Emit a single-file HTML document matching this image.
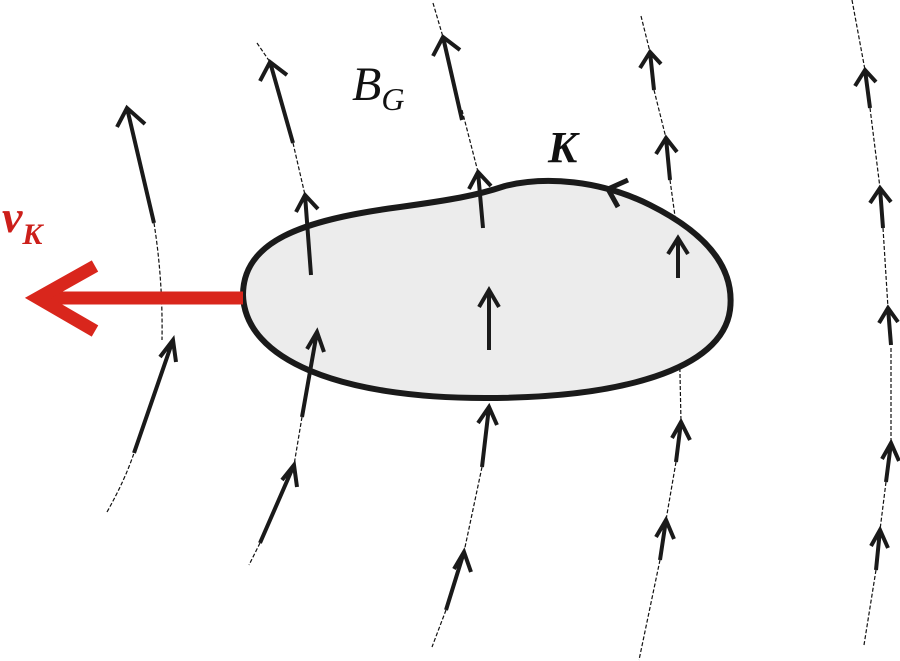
<!DOCTYPE html><html><head><style>body{margin:0;background:#fff}svg{display:block}</style></head><body>
<svg width="900" height="661" viewBox="0 0 900 661" xmlns="http://www.w3.org/2000/svg">
<g fill="none" stroke="#111" stroke-width="1.2" stroke-dasharray="4,2">
<path d="M107,512 Q125,480 134,453 M154,223 Q163,280 162,340"/>
<path d="M257,43 L270,62 M293,143 L305,195 M302,417 L294,465 M260,543 L249,565"/>
<path d="M433,3 L443,37 M462,110 L478,172 M482,467 L464,552 M446,610 L432,647"/>
<path d="M641,16 L650,52 M654,90 L666,138 M670,180 L678,238 M678,278 L681,422 M676,462 L666,520 M660,560 L639,660"/>
<path d="M852,0 L865,70 M870,108 L880,188 M883,228 L888,308 M891,348 L891,443 M886,482 L880,530 M876,570 L864,645"/>
</g>
<path d="M243,295 C243,242 300,220 400,207 C450,200 475,196 505,186 C545,176 600,180 650,205 C710,235 735,270 730,310 C722,370 620,398 485,398 C340,398 245,360 243,295 Z" fill="#ececec" stroke="#1a1a1a" stroke-width="6"/>
<path d="M628,180 L608,189 L618,207" fill="none" stroke="#1a1a1a" stroke-width="5"/>
<g fill="none" stroke="#1a1a1a" stroke-width="4">
<path d="M154,223 L127,108 M117,127 L127,108 L145,124"/>
<path d="M134,453 L173,340 M160,357 L173,340 L176,362"/>
<path d="M293,143 L270,62 M260,81 L270,62 L287,75"/>
<path d="M311,275 L305,195 M296,212 L305,195 L318,209"/>
<path d="M302,417 L317,332 M307,349 L317,332 L324,352"/>
<path d="M260,543 L294,465 M282,480 L294,465 L297,487"/>
<path d="M462,120 L443,37 M433,56 L443,37 L460,50"/>
<path d="M483,228 L478,172 M469,189 L478,172 L491,186"/>
<path d="M489,350 L489,290 M479,307 L489,290 L499,307"/>
<path d="M482,467 L489,407 M478,423 L489,407 L497,425"/>
<path d="M446,610 L464,552 M454,569 L464,552 L471,572"/>
<path d="M654,90 L650,52 M640,68 L650,52 L661,64"/>
<path d="M670,180 L666,138 M656,154 L666,138 L677,152"/>
<path d="M678,278 L678,238 M668,254 L678,238 L688,254"/>
<path d="M676,462 L681,422 M672,438 L681,422 L690,440"/>
<path d="M660,560 L666,520 M656,537 L666,520 L674,539"/>
<path d="M870,108 L865,70 M855,86 L865,70 L876,82"/>
<path d="M883,228 L880,188 M870,203 L880,188 L891,202"/>
<path d="M891,345 L888,308 M879,323 L888,308 L898,322"/>
<path d="M886,482 L891,443 M882,459 L891,443 L899,461"/>
<path d="M876,570 L880,530 M871,546 L880,530 L888,548"/>
</g>
<path d="M243,298 L50,298" stroke="#d9261c" stroke-width="13"/>
<path d="M95,266 L38,298 L95,331" fill="none" stroke="#d9261c" stroke-width="13"/>
<text x="352" y="100" font-family="Liberation Serif,serif" font-style="italic" font-size="48" fill="#111">B<tspan font-size="32" dy="10">G</tspan></text>
<text x="548" y="162" font-family="Liberation Serif,serif" font-style="italic" font-weight="bold" font-size="44" fill="#111">K</text>
<text x="2" y="232" font-family="Liberation Serif,serif" font-style="italic" font-weight="bold" font-size="46" fill="#cc1f1a">v<tspan font-size="30" dy="12">K</tspan></text>
</svg>
</body></html>
